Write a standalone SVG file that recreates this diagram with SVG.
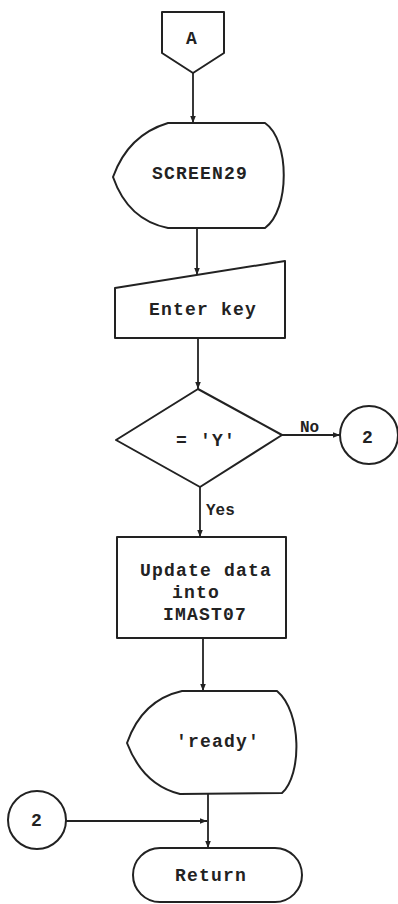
<svg xmlns="http://www.w3.org/2000/svg" width="398" height="904" viewBox="0 0 398 904">
<defs>
<style>
.s{fill:#fff;stroke:#222;stroke-width:2;stroke-linejoin:round}
.c{fill:none;stroke:#222;stroke-width:1.8}
.t{font-family:"Liberation Mono","DejaVu Sans Mono",monospace;font-size:18px;font-weight:bold;fill:#222;letter-spacing:1.2px}
.l{font-family:"Liberation Mono","DejaVu Sans Mono",monospace;font-size:16px;font-weight:bold;fill:#222}
</style>
<marker id="ah" viewBox="0 0 10 10" refX="10" refY="5" markerWidth="7" markerHeight="8" markerUnits="userSpaceOnUse" orient="auto">
<path d="M0,1 L10,5 L0,9 Z" fill="#222"/>
</marker>
</defs>
<rect width="398" height="904" fill="#fff"/>
<g id="connectors">
<path class="c" d="M193,73 V123" marker-end="url(#ah)"/>
<path class="c" d="M197,228 V275" marker-end="url(#ah)"/>
<path class="c" d="M198,338 V389" marker-end="url(#ah)"/>
<path class="c" d="M200,487 V537" marker-end="url(#ah)"/>
<path class="c" d="M203,638 V691" marker-end="url(#ah)"/>
<path class="c" d="M208,794 V848" marker-end="url(#ah)"/>
<path class="c" d="M282,435 H340" marker-end="url(#ah)"/>
<path class="c" d="M66,821 H207" marker-end="url(#ah)"/>
<text class="l" x="300" y="432">No</text>
<text class="l" x="206" y="515">Yes</text>
</g>
<g id="nodeA">
<polygon class="s" points="162,12 224,12 224,53 193,73 162,53"/>
<text class="t" x="192" y="44" text-anchor="middle" letter-spacing="0">A</text>
</g>
<g id="screen29">
<path class="s" d="M168,123 L265,123 C290,140 290,210 265,228 L168,228 Q128,220 113,177 Q128,135 168,123 Z"/>
<text class="t" x="152" y="179">SCREEN29</text>
</g>
<g id="enterkey">
<polygon class="s" points="115,288 285,261 285,338 115,338"/>
<text class="t" x="149" y="315">Enter key</text>
</g>
<g id="decision">
<polygon class="s" points="198,389 282,435 200,487 116,440"/>
<text class="t" x="176" y="446">= 'Y'</text>
</g>
<g id="conn2top">
<circle class="s" cx="369" cy="435" r="29"/>
<text class="t" x="368" y="443" text-anchor="middle" letter-spacing="0">2</text>
</g>
<g id="update">
<rect class="s" x="117" y="537" width="169" height="101"/>
<text class="t" x="140" y="576">Update data</text>
<text class="t" x="172" y="598">into</text>
<text class="t" x="163" y="620">IMAST07</text>
</g>
<g id="ready">
<path class="s" d="M182,691 L277,691 C302,712 302,775 282,793 L180,794 Q143,785 127,743 Q142,700 182,691 Z"/>
<text class="t" x="176" y="747">'ready'</text>
</g>
<g id="conn2bottom">
<circle class="s" cx="37" cy="820" r="29"/>
<text class="t" x="37" y="826" text-anchor="middle" letter-spacing="0">2</text>
</g>
<g id="return">
<rect class="s" x="133" y="848" width="169" height="54" rx="27" ry="27"/>
<text class="t" x="175" y="881">Return</text>
</g>
</svg>
